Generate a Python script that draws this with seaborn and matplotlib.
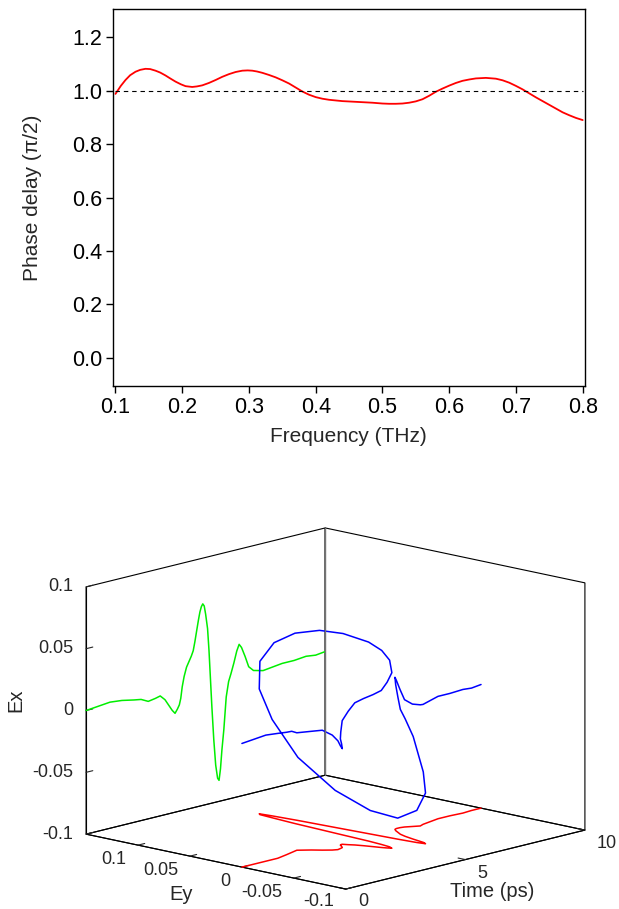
import numpy as np
import pandas as pd
import matplotlib
matplotlib.use("Agg")
import matplotlib.pyplot as plt
import seaborn as sns

# ---------------- data: top panel ----------------
freq_thz = [0.100, 0.108, 0.115, 0.122, 0.130, 0.137, 0.145, 0.152, 0.160, 0.167,
            0.175, 0.182, 0.190, 0.198, 0.205, 0.215, 0.222, 0.230, 0.240, 0.250,
            0.260, 0.270, 0.280, 0.290, 0.298, 0.305, 0.312, 0.320, 0.330, 0.340,
            0.350, 0.360, 0.370, 0.380, 0.390, 0.400, 0.410, 0.420, 0.440, 0.455,
            0.470, 0.485, 0.500, 0.510, 0.520, 0.530, 0.540, 0.550, 0.560, 0.570,
            0.580, 0.590, 0.600, 0.610, 0.620, 0.630, 0.640, 0.655, 0.670, 0.680,
            0.690, 0.700, 0.710, 0.720, 0.730, 0.740, 0.750, 0.760, 0.770, 0.780,
            0.790, 0.800]
phase_delay = [0.988, 1.018, 1.040, 1.058, 1.071, 1.078, 1.082, 1.081, 1.075, 1.068,
               1.057, 1.046, 1.034, 1.024, 1.017, 1.014, 1.016, 1.020, 1.029, 1.040,
               1.052, 1.062, 1.070, 1.075, 1.076, 1.075, 1.072, 1.067, 1.059, 1.050,
               1.039, 1.027, 1.012, 0.997, 0.985, 0.976, 0.970, 0.966, 0.961, 0.959,
               0.957, 0.955, 0.952, 0.951, 0.951, 0.952, 0.955, 0.960, 0.968, 0.981,
               0.996, 1.008, 1.019, 1.029, 1.037, 1.042, 1.046, 1.048, 1.045, 1.039,
               1.030, 1.018, 1.005, 0.990, 0.975, 0.961, 0.947, 0.933, 0.919, 0.908,
               0.898, 0.890]
reference_level = 1.0
freq_ticks = [0.1, 0.2, 0.3, 0.4, 0.5, 0.6, 0.7, 0.8]
phase_ticks = [0.0, 0.2, 0.4, 0.6, 0.8, 1.0, 1.2]

# ---------------- data: bottom panel ----------------
time_ps = [0.0, 0.5, 1.0, 1.5, 2.0, 2.3, 2.6, 2.9, 3.1, 3.3,
           3.45, 3.6, 3.72, 3.82, 3.9, 3.96, 4.02, 4.1, 4.2, 4.3,
           4.4, 4.48, 4.55, 4.62, 4.7, 4.76, 4.82, 4.88, 4.94, 5.0,
           5.08, 5.14, 5.2, 5.26, 5.34, 5.42, 5.5, 5.56, 5.62, 5.68,
           5.76, 5.86, 5.96, 6.06, 6.18, 6.3, 6.4, 6.5, 6.65, 6.8,
           7.0, 7.2, 7.4, 7.8, 8.2, 8.7, 9.2, 9.6, 10.0]
ex_field = [0.000, 0.001, 0.002, 0.001, -0.001, -0.002, -0.005, -0.004, -0.003, -0.007,
            -0.012, -0.017, -0.020, -0.017, -0.014, -0.009, 0.000, 0.008, 0.015, 0.019,
            0.023, 0.027, 0.034, 0.042, 0.051, 0.057, 0.061, 0.063, 0.061, 0.054,
            0.042, 0.024, 0.001, -0.022, -0.049, -0.070, -0.081, -0.083, -0.074, -0.059,
            -0.043, -0.017, -0.005, 0.001, 0.009, 0.018, 0.023, 0.020, 0.012, 0.003,
            -0.001, -0.002, -0.003, -0.002, -0.001, -0.001, 0.000, -0.001, 0.000]
ey_field = [0.000, 0.000, 0.000, 0.000, 0.003, 0.005, 0.007, 0.000, -0.006, -0.011,
            -0.013, -0.012, -0.011, -0.008, -0.005, -0.004, -0.004, -0.008, -0.012, -0.018,
            -0.025, -0.031, -0.035, -0.038, -0.034, -0.025, -0.011, 0.015, 0.039, 0.064,
            0.086, 0.101, 0.103, 0.092, 0.069, 0.035, 0.003, -0.022, -0.039, -0.046,
            -0.042, -0.030, -0.020, -0.013, -0.008, -0.003, 0.000, 0.001, 0.001, 0.000,
            -0.003, -0.006, -0.004, -0.002, 0.000, 0.000, -0.001, 0.000, 0.000]
time_lim = [0, 10]
ey_lim = [-0.1, 0.15]
ex_lim = [-0.1, 0.1]
time_ticks = [0, 5, 10]
ey_ticks = [-0.1, -0.05, 0, 0.05, 0.1]
ex_ticks = [-0.1, -0.05, 0, 0.05, 0.1]

# ---------------- style ----------------
sns.set_style("ticks")
plt.rcParams["font.family"] = ["Liberation Sans", "DejaVu Sans"]
plt.rcParams["axes.unicode_minus"] = False

W, H = 619, 909
fig = plt.figure(figsize=(W / 100, H / 100), dpi=100)

# ---------------- top panel ----------------
ax = fig.add_axes([113 / W, 1 - 386 / H, (584.6 - 113) / W, (386 - 9) / H])
df = pd.DataFrame({"Frequency (THz)": freq_thz, "Phase": phase_delay})
sns.lineplot(data=df, x="Frequency (THz)", y="Phase", color="#ff0000", lw=1.3, ax=ax)
ax.plot([freq_thz[0], freq_thz[-1]], [reference_level, reference_level],
        color="black", lw=0.8, ls=(0, (4, 3.5)))
ax.set_xlim(0.0963, 0.8029)
ax.set_ylim(-0.106, 1.306)
ax.set_xticks(freq_ticks)
ax.set_xticklabels([f"{v:.1f}" for v in freq_ticks])
ax.set_yticks(phase_ticks)
ax.set_yticklabels([f"{v:.1f}" for v in phase_ticks])
ax.tick_params(direction="out", length=5, width=1.0, labelsize=15.5, pad=3,
               colors="black")
for s in ax.spines.values():
    s.set_linewidth(1.0)
    s.set_color("black")
ax.set_xlabel("Frequency (THz)", fontsize=15)
ax.set_ylabel("Phase delay (π/2)", fontsize=15)
ax.xaxis.set_label_coords(0.5, -0.108)
ax.yaxis.set_label_coords(-0.15, 0.5)

# ---------------- bottom panel (3D) ----------------
ax3 = fig.add_axes([0.0, 0.0, 1.0, 0.45], projection="3d")
ax3.set_proj_type("ortho")
ax3.view_init(elev=13.2, azim=-137.2)
ax3.set_box_aspect((352, 354, 254))
ax3.set_xlim(*time_lim)
ax3.set_ylim(*ey_lim)
ax3.set_zlim(*ex_lim)
ax3.patch.set_visible(False)
ax3.grid(False)
ax3.set_xticks(time_ticks)
ax3.set_yticks(ey_ticks)
ax3.set_zticks(ex_ticks)
ax3.set_xticklabels([])
ax3.set_yticklabels([])
ax3.set_zticklabels([])
for axis in (ax3.xaxis, ax3.yaxis, ax3.zaxis):
    axis.pane.set_alpha(None)
    axis.pane.set_facecolor((1, 1, 1, 0))
    axis.pane.set_edgecolor("black")
    axis.pane.set_linewidth(0.8)
    axis.pane.set_closed(True)
    axis.line.set_linewidth(0.8)
    axis.line.set_color("black")
    axis._axinfo["tick"]["inward_factor"] = 0.0
    axis._axinfo["tick"]["outward_factor"] = 0.35
    axis._axinfo["tick"]["linewidth"] = {True: 0.8, False: 0.5}
    axis._axinfo["tick"]["color"] = "black"

n = len(time_ps)
ax3.plot(time_ps, [ey_lim[1]] * n, ex_field, color="#00ee00", lw=1.1)
ax3.plot(time_ps, ey_field, [ex_lim[0]] * n, color="#ff0000", lw=1.1)
ax3.plot(time_ps, ey_field, ex_field, color="#0000ff", lw=1.1)
ax3.plot([time_lim[1]] * 2, [ey_lim[1]] * 2, ex_lim, color="0.45", lw=1.0)


def to_px(a, xs, ys, zs):
    M = a.get_proj()
    vec = np.vstack([np.asarray(xs, float), np.asarray(ys, float),
                     np.asarray(zs, float), np.ones(len(xs))])
    out = M @ vec
    X = out[0] / out[3]
    Y = out[1] / out[3]
    return a.transData.transform(np.column_stack([X, Y]))


# fit the projected box onto the reference location (pixel frame, y up)
fig.canvas.draw()
cx, cy, cz = np.meshgrid(time_lim, ey_lim, ex_lim)
pts = to_px(ax3, cx.ravel(), cy.ravel(), cz.ravel())
tx0, tx1 = 86.0, 585.0
ty0, ty1 = H - 889.0, H - 528.0
pos = ax3.get_position()
side = pos.width * W
x0, y0 = pos.x0 * W, pos.y0 * H
sc = 0.5 * ((tx1 - tx0) / (pts[:, 0].max() - pts[:, 0].min())
            + (ty1 - ty0) / (pts[:, 1].max() - pts[:, 1].min()))
new_side = side * sc
cxm = 0.5 * (pts[:, 0].max() + pts[:, 0].min())
cym = 0.5 * (pts[:, 1].max() + pts[:, 1].min())
nx0 = 0.5 * (tx0 + tx1) - new_side * (cxm - x0) / side
ny0 = 0.5 * (ty0 + ty1) - new_side * (cym - y0) / side
ax3.set_position([nx0 / W, ny0 / H, new_side / W, new_side / H])
fig.canvas.draw()


def fmt(v):
    return f"{v:g}"


tick_fs = 13
min_y = 8.0  # keep labels inside the bottom edge
# Ex tick labels (left vertical edge)
p = to_px(ax3, [time_lim[0]] * len(ex_ticks), [ey_lim[1]] * len(ex_ticks), ex_ticks)
for (px, py), v in zip(p, ex_ticks):
    fig.text((px - 13) / W, py / H, fmt(v), ha="right", va="center", fontsize=tick_fs)
# Ey tick labels (front-left floor edge)
p = to_px(ax3, [time_lim[0]] * len(ey_ticks), ey_ticks, [ex_lim[0]] * len(ey_ticks))
for (px, py), v in zip(p, ey_ticks):
    fig.text((px - 11.5) / W, max(py - 14.5, min_y) / H, fmt(v), ha="right",
             va="center", fontsize=tick_fs)
# Time tick labels (front-right floor edge)
p = to_px(ax3, time_ticks, [ey_lim[0]] * len(time_ticks), [ex_lim[0]] * len(time_ticks))
for (px, py), v in zip(p, time_ticks):
    fig.text((px + 12) / W, max(py - 13.5, min_y) / H, fmt(v), ha="left",
             va="center", fontsize=tick_fs)

fig.text(16 / W, 1 - 700 / H, "Ex", rotation=90, ha="center", va="center", fontsize=14.5)
fig.text(181 / W, 1 - 895 / H, "Ey", ha="center", va="center", fontsize=14.5)
fig.text(492.5 / W, 1 - 891.5 / H, "Time (ps)", ha="center", va="center", fontsize=14.5)

fig.savefig("out.png", dpi=100)
